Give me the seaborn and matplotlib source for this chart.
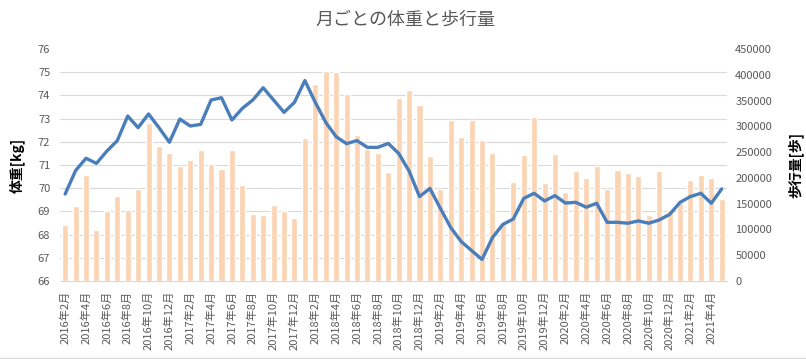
import numpy as np
import pandas as pd
import matplotlib.pyplot as plt
import seaborn as sns
from matplotlib.lines import Line2D


# Months (2016年2月 - 2021年5月)
months = pd.date_range("2016-02-01", "2021-05-01", freq="MS")
month_labels = [f"{d.year}年{d.month}月" for d in months]

# Monthly average weight [kg]
weight = [
    69.75, 70.76, 71.29, 71.07, 71.60, 72.05, 73.11, 72.61, 73.20, 72.61, 71.98, 72.98, 72.68, 72.75, 73.80, 73.90,
    72.94, 73.44, 73.80, 74.33, 73.80, 73.27, 73.70, 74.64, 73.70, 72.84, 72.22, 71.92, 72.05, 71.76, 71.76, 71.93,
    71.50, 70.74, 69.64, 69.99, 69.13, 68.30, 67.70, 67.31, 66.93, 67.87, 68.44, 68.67, 69.56, 69.78, 69.45, 69.68,
    69.36, 69.39, 69.18, 69.35, 68.53, 68.53, 68.49, 68.59, 68.49, 68.63, 68.87, 69.39, 69.64, 69.78, 69.35, 69.97,
]

# Monthly steps [歩]
steps = [
    108600, 145500, 205600, 98900, 135800, 164900, 137700, 179100, 307100, 262500, 248300, 223700, 234700, 254100, 227600, 217200,
    254100, 186200, 130000, 128000, 147400, 135800, 122200, 277400, 382100, 407300, 405400, 362700, 283200, 256000, 248300, 211400,
    355000, 370500, 341400, 242500, 179100, 312300, 279300, 312300, 273500, 248300, 110000, 192000, 244400, 318100, 190100, 246300,
    172600, 213400, 199800, 223100, 179100, 215300, 209500, 203700, 128000, 213400, 137700, 153200, 195900, 205600, 199800, 159100,
]

df = pd.DataFrame({
    "pos": range(len(month_labels)),
    "month": month_labels,
    "weight": weight,
    "steps": steps,
})

sns.set_style("white")
plt.rcParams["font.family"] = ["Noto Sans CJK JP", "DejaVu Sans"]

fig = plt.figure(figsize=(8.06, 3.59), dpi=100)
ax_w = fig.add_axes([0.0744, 0.2173, 0.8275, 0.6462])
ax_s = ax_w.twinx()

# Bars (steps) on right axis, line (weight) on left axis drawn above
sns.barplot(data=df, x="pos", y="steps", ax=ax_s, color="#FBD4B4", saturation=1, width=0.58)
sns.lineplot(data=df, x="pos", y="weight", ax=ax_w, color="#4A7EBB", linewidth=2.4)

ax_w.set_zorder(ax_s.get_zorder() + 1)
ax_w.patch.set_visible(False)

ax_w.set_ylim(66, 76)
ax_s.set_ylim(0, 450000)
ax_w.set_xlim(-0.5, len(month_labels) - 0.5)

# gridlines follow the weight axis, drawn behind the bars
ax_w.grid(False)
ax_s.set_yticks(np.linspace(0, 450000, 11), minor=True)
ax_s.yaxis.grid(True, which="minor", color="#D9D9D9", linewidth=0.8)
ax_s.yaxis.grid(False, which="major")
ax_s.set_axisbelow(True)

# y ticks
ax_w.set_yticks(range(66, 77))
ax_s.set_yticks(range(0, 450001, 50000))
ax_s.set_yticklabels([str(v) for v in range(0, 450001, 50000)])
ax_w.tick_params(axis="y", length=0, labelsize=8, labelcolor="#595959", pad=7)
ax_s.tick_params(axis="y", which="both", length=0, labelsize=8, labelcolor="#595959", pad=6)

# x ticks: marks every 2 months, labels centred on the month
n = len(month_labels)
ax_w.set_xticks(np.arange(-0.5, n, 2))
ax_w.set_xticklabels([])
ax_w.set_xticks(np.arange(0, n, 2), minor=True)
ax_w.set_xticklabels([month_labels[i] for i in range(0, n, 2)], minor=True, rotation=90)
ax_w.tick_params(axis="x", which="major", length=4, color="#D9D9D9", width=0.8)
ax_w.tick_params(axis="x", which="minor", length=0, labelsize=8, labelcolor="#595959", pad=7)

ax_w.set_xlabel("")
ax_s.set_xlabel("")

for side in ["top", "left", "right"]:
    ax_w.spines[side].set_visible(False)
ax_w.spines["bottom"].set_color("#D9D9D9")
for side in ax_s.spines:
    ax_s.spines[side].set_visible(False)

ax_w.set_ylabel("体重[kg]", fontsize=10, fontweight="bold", color="black")
ax_w.yaxis.set_label_coords(-0.0525, 0.5)
ax_s.set_ylabel("歩行量[歩]", fontsize=10, fontweight="bold", color="black")
ax_s.yaxis.set_label_coords(1.0915, 0.5)

fig.text(0.503, 1 - 20 / 359, "月ごとの体重と歩行量", ha="center", va="center", fontsize=13, color="#595959")

fig.add_artist(Line2D([0, 1], [0.002, 0.002], transform=fig.transFigure, color="#D9D9D9", linewidth=1))

fig.savefig("out.png", dpi=100)
